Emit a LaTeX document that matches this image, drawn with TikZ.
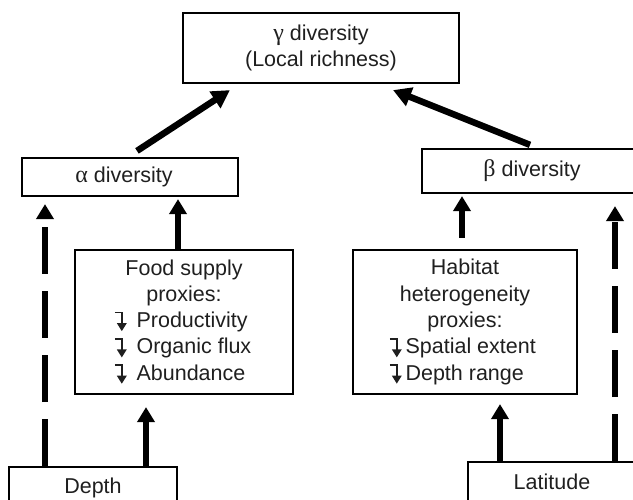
\documentclass[tikz,border=0pt]{standalone}
\usepackage{fontspec}
\setmainfont{Liberation Sans}
\newfontfamily\grkfont{Liberation Serif}
\newcommand\grk{\grkfont\fontsize{24}{26.3}\selectfont}
\usetikzlibrary{arrows.meta,calc}
\newcommand\dnarr{\tikz[baseline=0pt,x=1pt,y=1pt]\draw[line width=1.6pt,line join=miter,-{Triangle[length=8pt,width=9.5pt]}] (0,15) -- (7,15) -- (7,-3.5);}
\begin{document}
\begin{tikzpicture}[x=1pt,y=-1pt,
  box/.style={draw, line width=2.2pt, inner sep=0pt, font=\fontsize{21.5}{26.3}\selectfont, align=center, text=black!88},
  arr/.style={line width=5.5pt, -{Triangle[length=15pt,width=17pt]}},
  darr/.style={arr, dash pattern=on 47pt off 17pt},
  garr/.style={line width=6.5pt, -{Triangle[length=18pt,width=19pt]}}]
\useasboundingbox (0,0) rectangle (633,500);
\clip (0,0) rectangle (633,500);
\node[box, minimum width=276, minimum height=70] (gamma) at (321,48) {{\grk γ} diversity\\(Local richness)};
\node[box, minimum width=216, minimum height=38] (alpha) at (130,177) {{\grk α} diversity\hspace*{12pt}};
\node[box, minimum width=220, minimum height=44] (beta) at (532,171) {{\grk β} diversity};
\node[box, minimum width=218, minimum height=144] (food) at (184,322) {Food supply\\proxies:\\\makebox[140pt][l]{\dnarr\hspace{10pt}Productivity}\\\makebox[140pt][l]{\dnarr\hspace{10pt}Organic flux}\\\makebox[140pt][l]{\dnarr\hspace{10pt}Abundance}};
\node[box, minimum width=224, minimum height=144] (habitat) at (465,322) {Habitat\\heterogeneity\\proxies:\\\makebox[152pt][l]{\dnarr\hspace{4pt}Spatial extent}\\\makebox[152pt][l]{\dnarr\hspace{4pt}Depth range}};
\node[box, anchor=north, minimum width=168, text height=15.5pt, text depth=5pt, inner ysep=11pt] (depth) at (93,466) {Depth};
\node[box, anchor=north, minimum width=168, text height=15.5pt, text depth=5pt, inner ysep=12pt] (latitude) at (552,461) {Latitude};
% connectors
\draw[garr] ($(alpha.north)+(7,-6)$) -- ($(gamma.south)+(-91,6)$);
\draw[garr] ($(beta.north)+(-2,-3)$) -- ($(gamma.south)+(72,6)$);
\draw[arr] (food.north -| 178,0) -- ($(alpha.south -| 178,0)+(0,2)$);
\draw[darr] (depth.north -| 45,0) -- ($(alpha.south -| 45,0)+(0,7)$);
\draw[arr] (depth.north -| 146,0) -- ($(food.south -| 146,0)+(0,12)$);
\draw[arr] ($(habitat.north -| 462,0)+(0,-11)$) -- ($(beta.south -| 462,0)+(0,2)$);
\draw[darr] (latitude.north -| 615,0) -- ($(beta.south -| 615,0)+(0,12)$);
\draw[arr] (latitude.north -| 500,0) -- ($(habitat.south -| 500,0)+(0,9)$);
\end{tikzpicture}
\end{document}
